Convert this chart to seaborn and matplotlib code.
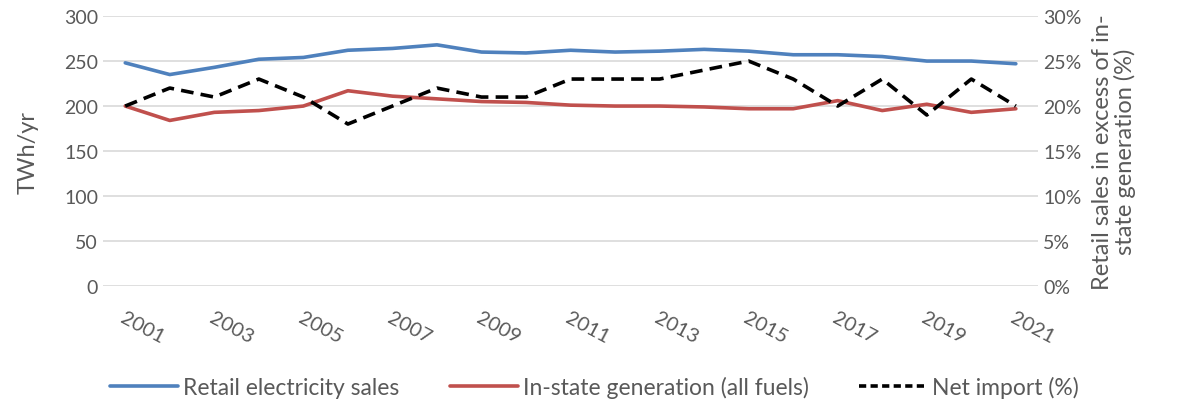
import matplotlib
matplotlib.use("Agg")
import matplotlib.pyplot as plt
import seaborn as sns
import pandas as pd
import numpy as np
from matplotlib.ticker import FuncFormatter
from matplotlib.lines import Line2D

years = list(range(2001, 2022))
retail_sales = [248, 235, 243, 252, 254, 262, 264, 268, 260, 259, 262, 260, 261, 263, 261, 257, 257, 255, 250, 250, 247]
instate_gen = [200, 184, 193, 195, 200, 217, 211, 208, 205, 204, 201, 200, 200, 199, 197, 197, 206, 195, 202, 193, 197]
net_import = [20, 22, 21, 23, 21, 18, 20, 22, 21, 21, 23, 23, 23, 24, 25, 23, 20, 23, 19, 23, 20]

sns.set_theme(style="white")
plt.rcParams['font.family'] = ['Lato', 'DejaVu Sans']
gray = "#595959"

fig = plt.figure(figsize=(11.77, 4.06), dpi=100)
ax = fig.add_axes([0.0875, 0.293, 0.7945, 0.665])
ax2 = ax.twinx()

idx = np.arange(len(years))
df = pd.DataFrame({"i": idx, "retail": retail_sales, "gen": instate_gen, "imp": net_import})

sns.lineplot(data=df, x="i", y="retail", ax=ax, color="#4F81BD", lw=2.6, legend=False)
sns.lineplot(data=df, x="i", y="gen", ax=ax, color="#C0504D", lw=2.6, legend=False)
sns.lineplot(data=df, x="i", y="imp", ax=ax2, color="black", lw=2.6, legend=False)
ax2.lines[0].set_dashes([3.5, 2.0])

ax.set_xlim(-0.5, len(years) - 0.5)
ax.set_ylim(0, 300)
ax2.set_ylim(0, 30)
ax.set_yticks(range(0, 301, 50))
ax2.set_yticks(range(0, 31, 5))
ax2.yaxis.set_major_formatter(FuncFormatter(lambda v, p: f"{int(v)}%"))

ax.grid(axis="y", color="#d9d9d9", lw=1.2)
ax.grid(axis="x", visible=False)
ax2.grid(False)
for a in (ax, ax2):
    for s in a.spines.values():
        s.set_visible(False)
    a.tick_params(length=0, colors=gray, labelsize=14)

ax.set_xticks(idx[::2])
ax.set_xticklabels([str(y) for y in years[::2]], rotation=-28, ha="left", rotation_mode="anchor", fontsize=14.5)
ax.tick_params(axis="x", pad=16)
ax.set_xlabel("")
ax.set_ylabel("TWh/yr", color=gray, fontsize=17, labelpad=18)
ax2.set_ylabel("Retail sales in excess of in-\nstate generation (%)", color=gray, fontsize=17, labelpad=8, linespacing=1.05)

handles = [Line2D([], [], color="#4F81BD", lw=2.6),
           Line2D([], [], color="#C0504D", lw=2.6),
           Line2D([], [], color="black", lw=2.6, dashes=[2, 1.2])]
labels = ["Retail electricity sales", "In-state generation (all fuels)", "Net import (%)"]
fig.legend(handles, labels, loc="center", bbox_to_anchor=(0.505, 0.045), ncol=3, frameon=False,
           fontsize=16.5, labelcolor=gray, handlelength=3.0, handletextpad=0.2, columnspacing=2.2)

fig.savefig("out.png", dpi=100)
